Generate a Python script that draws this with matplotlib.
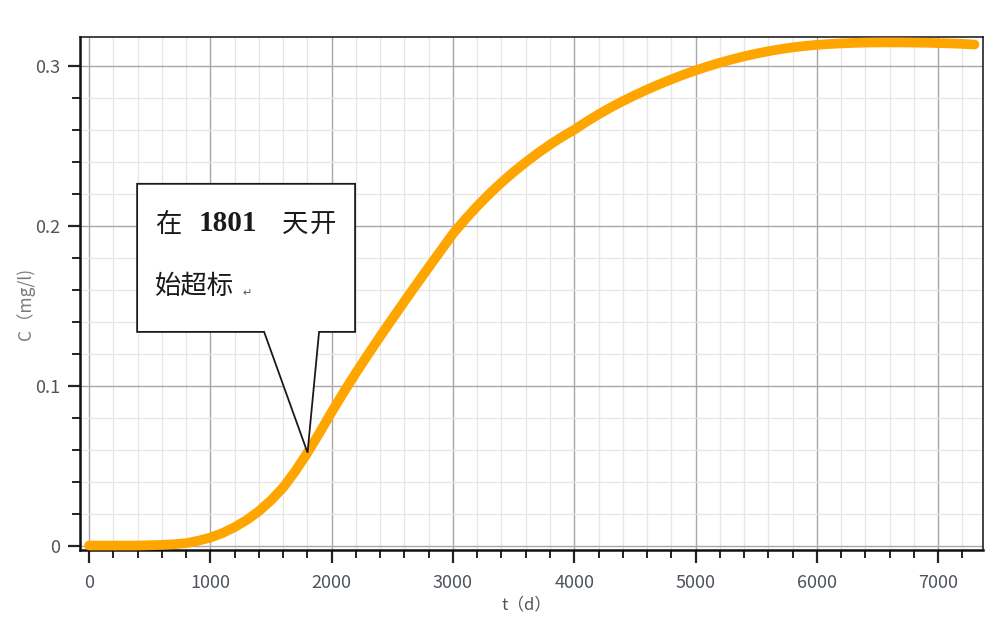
import matplotlib
matplotlib.use("Agg")
import matplotlib.pyplot as plt
from matplotlib.ticker import MultipleLocator
from matplotlib.patches import Polygon

plt.rcParams['font.family'] = ['Noto Sans CJK SC', 'DejaVu Sans']

# Concentration breakthrough curve (time in days, concentration in mg/l)
t_days = [0, 100, 200, 300, 400, 500, 600, 700, 800, 900,
          1000, 1100, 1200, 1300, 1400, 1500, 1600, 1700, 1800, 1900,
          2000, 2100, 2200, 2300, 2400, 2500, 2600, 2700, 2800, 2900,
          3000, 3100, 3200, 3300, 3400, 3500, 3600, 3700, 3800, 3900,
          4000, 4100, 4200, 4300, 4400, 4500, 4600, 4700, 4800, 4900,
          5000, 5100, 5200, 5300, 5400, 5500, 5600, 5700, 5800, 5900,
          6000, 6100, 6200, 6300, 6400, 6500, 6600, 6700, 6800, 6900,
          7000, 7100, 7200, 7300]
conc = [0.0, 0.0, 0.0, 0.0, 0.0, 0.0002, 0.0004, 0.0008, 0.0015, 0.003,
        0.005, 0.0078, 0.0115, 0.016, 0.0215, 0.0283, 0.0363, 0.0465, 0.058, 0.0705,
        0.0835, 0.096, 0.108, 0.1195, 0.1308, 0.1418, 0.1527, 0.1634, 0.174, 0.1845,
        0.195, 0.2039, 0.2122, 0.2199, 0.227, 0.2336, 0.2397, 0.2454, 0.2507, 0.2556,
        0.26, 0.265, 0.2696, 0.2739, 0.2779, 0.2816, 0.2851, 0.2884, 0.2915, 0.2944,
        0.2971, 0.2996, 0.3019, 0.304, 0.3059, 0.3076, 0.3091, 0.3104, 0.3115, 0.3124,
        0.3131, 0.3136, 0.314, 0.3143, 0.3145, 0.3146, 0.3146, 0.3146, 0.3145, 0.3144,
        0.3142, 0.314, 0.3137, 0.3133]

# Day on which the limit is first exceeded
t_exceed = 1801
c_exceed = 0.0581

x_ticks = [0, 1000, 2000, 3000, 4000, 5000, 6000, 7000]
y_ticks = [0, 0.1, 0.2, 0.3]
y_tick_labels = ["0", "0.1", "0.2", "0.3"]

fig = plt.figure(figsize=(10, 6.21), dpi=100)
ax = fig.add_axes([0.08, 0.1143, 0.903, 0.8261])

ax.plot(t_days, conc, color='#FFA500', lw=7.0, solid_capstyle='round',
        solid_joinstyle='round', zorder=3, clip_on=False)

ax.set_xlim(-75, 7370)
ax.set_ylim(-0.0028, 0.318)

ax.set_xticks(x_ticks)
ax.set_yticks(y_ticks)
ax.set_yticklabels(y_tick_labels)
ax.xaxis.set_minor_locator(MultipleLocator(200))
ax.yaxis.set_minor_locator(MultipleLocator(0.02))

ax.grid(which='major', color='#a8a8a8', lw=1.0, zorder=0)
ax.grid(which='minor', color='#e6e6e6', lw=0.9, zorder=0)
ax.set_axisbelow(True)

ax.tick_params(which='major', direction='out', length=9, width=1.6,
               colors='#222222', labelcolor='#4e535c', labelsize=13)
ax.tick_params(axis='x', which='major', pad=8)
ax.tick_params(axis='y', which='major', pad=5)
ax.tick_params(which='minor', direction='out', length=5.5, width=1.4,
               colors='#222222')
ax.tick_params(top=False, right=False, which='both')

for side in ['left', 'bottom']:
    ax.spines[side].set_linewidth(1.8)
    ax.spines[side].set_color('#111111')
for side in ['top', 'right']:
    ax.spines[side].set_linewidth(1.1)
    ax.spines[side].set_color('#111111')

ax.set_xlabel("t（d）", fontsize=12, color='#555555')
ax.xaxis.set_label_coords(0.494, -0.090)
ax.set_ylabel("C（mg/l)", fontsize=12.5, color='#7a7a7a')
ax.yaxis.set_label_coords(-0.050, 0.48)

# Callout box with pointer to the exceedance point
box_left, box_right = 396, 2193
box_bottom, box_top = 0.1336, 0.2262
tail_left, tail_right = 1443, 1896
callout = Polygon([(box_left, box_top), (box_right, box_top),
                   (box_right, box_bottom), (tail_right, box_bottom),
                   (t_exceed, c_exceed), (tail_left, box_bottom),
                   (box_left, box_bottom)],
                  closed=True, facecolor='white', edgecolor='#1a1a1a',
                  lw=1.3, zorder=4)
ax.add_patch(callout)

line1_y = 0.2005
line2_y = 0.1617
txt = dict(color='#1a1a1a', ha='left', va='center', zorder=5)
ax.text(543, line1_y, "在", fontsize=19, **txt)
ax.text(905, line1_y + 0.001, "1801", fontsize=21, fontweight='bold',
        family=['Liberation Serif'], **txt)
ax.text(1590, line1_y, "天", fontsize=19, **txt)
ax.text(1820, line1_y, "开", fontsize=19, **txt)
ax.text(543, line2_y, "始超标", fontsize=19, **txt)
ax.text(1262, line2_y - 0.004, "↵", fontsize=8, color='#555555',
        family=['DejaVu Sans'], ha='left', va='center', zorder=5)

fig.savefig("out.png", dpi=100, facecolor='white')
